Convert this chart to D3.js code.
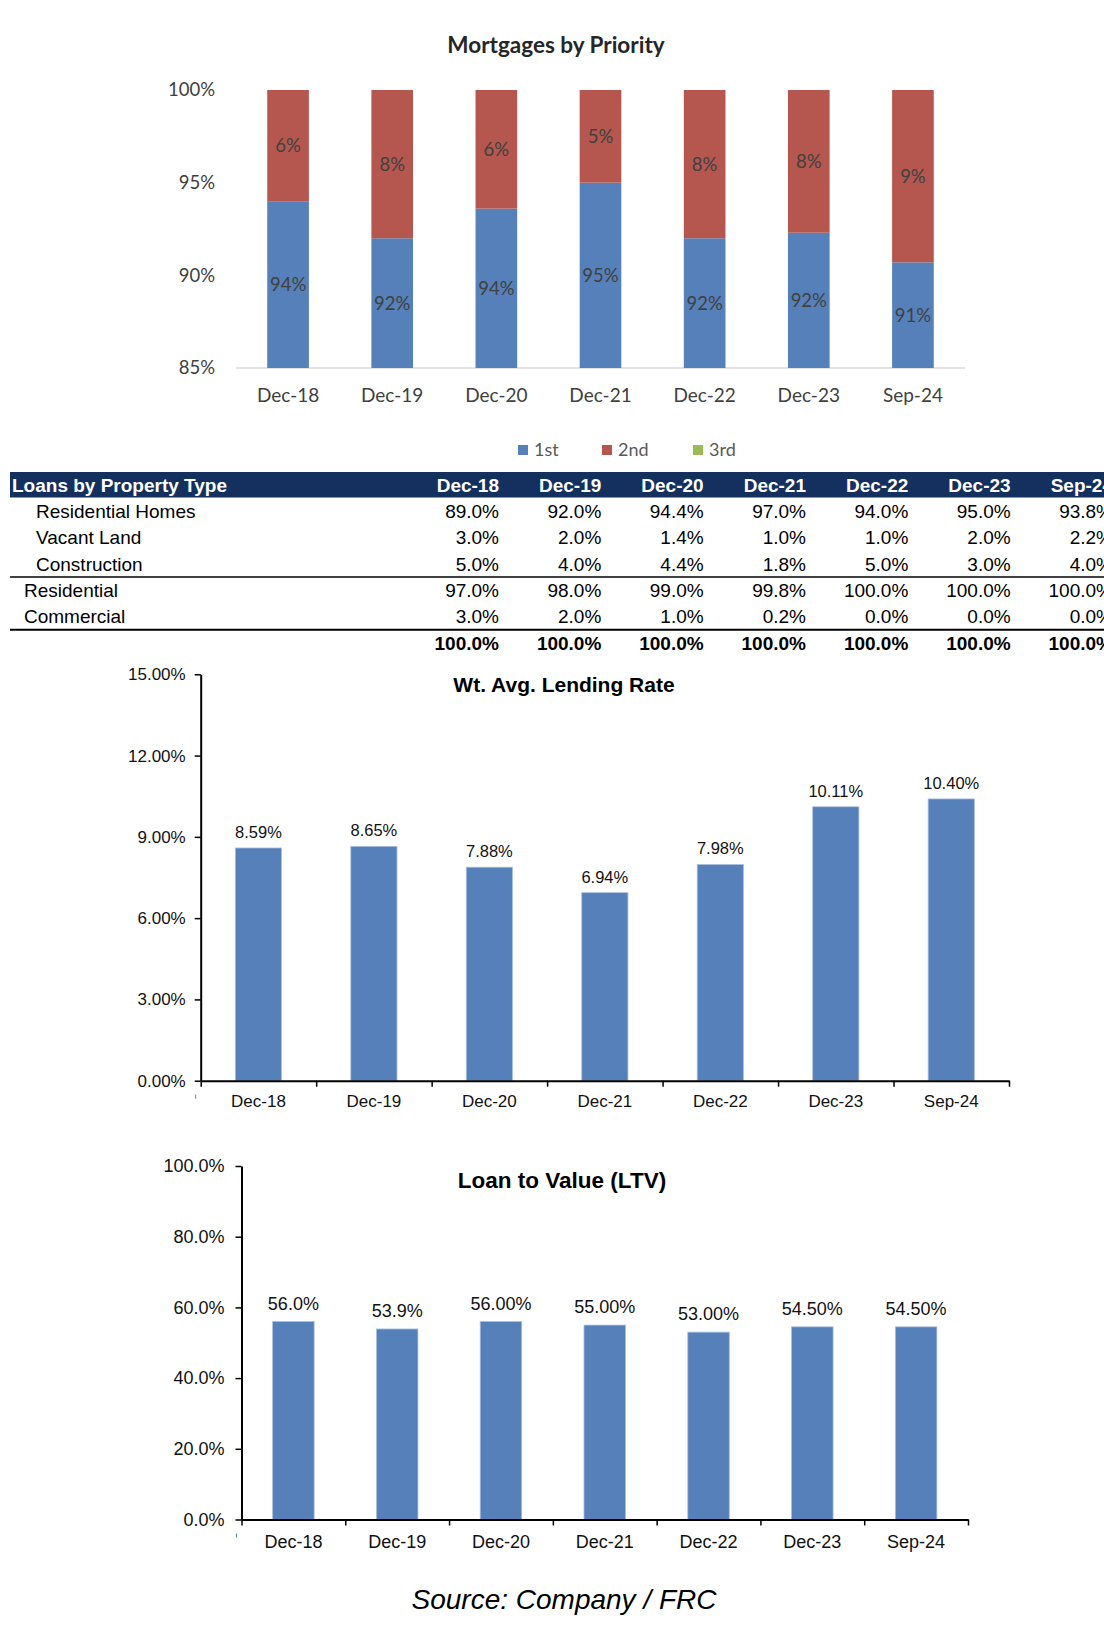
<!DOCTYPE html>
<html>
<head>
<meta charset="utf-8">
<script src="https://cdn.jsdelivr.net/npm/d3@7"></script>
<style>
  body { margin: 0; background: #fff; }
  svg text { font-family: "Liberation Sans", Arial, sans-serif; }
  .calibri { font-family: Lato, "Open Sans", sans-serif !important; }
</style>
</head>
<body>
<div id="page"></div>
<script>
// ---- data ----
const periods = ["Dec-18", "Dec-19", "Dec-20", "Dec-21", "Dec-22", "Dec-23", "Sep-24"];

// mortgages by priority (% of portfolio)
const firstLien  = [94.0, 92.0, 93.6, 95.0, 92.0, 92.3, 90.7];
const secondLien = [6.0, 8.0, 6.4, 5.0, 8.0, 7.7, 9.3];
const thirdLien  = [0, 0, 0, 0, 0, 0, 0];
const priorityTicks = [85, 90, 95, 100];
const priorityNames = ["1st", "2nd", "3rd"];

// loans by property type table
const rowNames = ["Residential Homes", "Vacant Land", "Construction", "Residential", "Commercial", ""];
const residentialHomes = [89.0, 92.0, 94.4, 97.0, 94.0, 95.0, 93.8];
const vacantLand       = [3.0, 2.0, 1.4, 1.0, 1.0, 2.0, 2.2];
const construction     = [5.0, 4.0, 4.4, 1.8, 5.0, 3.0, 4.0];
const residential      = [97.0, 98.0, 99.0, 99.8, 100.0, 100.0, 100.0];
const commercial       = [3.0, 2.0, 1.0, 0.2, 0.0, 0.0, 0.0];
const totals           = [100.0, 100.0, 100.0, 100.0, 100.0, 100.0, 100.0];

// weighted avg lending rate (%)
const lendingRate = [8.59, 8.65, 7.88, 6.94, 7.98, 10.11, 10.40];
const rateTicks = [0, 3, 6, 9, 12, 15];

// loan to value (%)
const ltv = [56.0, 53.9, 56.0, 55.0, 53.0, 54.5, 54.5];
const ltvLabels = ["56.0%", "53.9%", "56.00%", "55.00%", "53.00%", "54.50%", "54.50%"];
const ltvTicks = [0, 20, 40, 60, 80, 100];

const blue = "#5680B9", red = "#B5574F", green = "#9BBB59";

const svg = d3.select("#page").append("svg")
  .attr("width", 1104).attr("height", 1638)
  .style("background", "#fff");

// ================= Mortgages by Priority =================
function drawPriority() {
  const g = svg.append("g");
  const x = d3.scaleBand().domain(periods).range([236, 965]).paddingInner(0.6).paddingOuter(0.3);
  const y = d3.scaleLinear().domain([85, 100]).range([368, 90]).clamp(true);

  const rows = periods.map((p, i) => ({ period: p, "1st": firstLien[i], "2nd": secondLien[i], "3rd": thirdLien[i] }));
  const series = d3.stack().keys(priorityNames)(rows);
  const color = d3.scaleOrdinal().domain(priorityNames).range([blue, red, green]);

  g.append("text").attr("class", "calibri")
    .attr("x", 556).attr("y", 45).attr("dy", "0.35em")
    .attr("text-anchor", "middle")
    .style("font-size", "22.5px").style("font-weight", "bold").style("fill", "#262626")
    .text("Mortgages by Priority");

  // y labels, no axis line
  g.selectAll(".ytick").data(priorityTicks).join("text")
    .attr("class", "calibri")
    .attr("x", 215).attr("y", d => y(d)).attr("dy", "0.35em")
    .attr("text-anchor", "end")
    .style("font-size", "18.5px").style("fill", "#404040")
    .text(d => d + "%");

  g.append("line")
    .attr("x1", 236).attr("x2", 965).attr("y1", y(85)).attr("y2", y(85))
    .attr("stroke", "#d9d9d9").attr("stroke-width", 1.5);

  const layer = g.selectAll(".layer").data(series).join("g")
    .attr("fill", d => color(d.key));

  layer.selectAll("rect").data(d => d).join("rect")
    .attr("x", d => x(d.data.period))
    .attr("y", d => y(d[1]))
    .attr("width", x.bandwidth())
    .attr("height", d => y(d[0]) - y(d[1]));

  layer.selectAll("text").data(d => d.map(v => ({ v, key: d.key }))).join("text")
    .filter(d => d.v.data[d.key] > 0)
    .attr("class", "calibri")
    .attr("x", d => x(d.v.data.period) + x.bandwidth() / 2)
    .attr("y", d => (y(d.v[0]) + y(d.v[1])) / 2)
    .attr("dy", "0.35em")
    .attr("text-anchor", "middle")
    .style("font-size", "18.5px").style("fill", "#404040")
    .text(d => Math.round(d.v.data[d.key]) + "%");

  g.selectAll(".xlab").data(periods).join("text")
    .attr("class", "calibri")
    .attr("x", d => x(d) + x.bandwidth() / 2).attr("y", 395).attr("dy", "0.35em")
    .attr("text-anchor", "middle")
    .style("font-size", "19px").style("fill", "#404040")
    .text(d => d);

  // legend
  const legendX = [518, 602, 693];
  const lg = g.selectAll(".leg").data(priorityNames).join("g")
    .attr("transform", (d, i) => `translate(${legendX[i]},450)`);
  lg.append("rect").attr("x", 0).attr("y", -5).attr("width", 10).attr("height", 10)
    .attr("fill", d => color(d));
  lg.append("text").attr("class", "calibri")
    .attr("x", 16).attr("dy", "0.35em")
    .style("font-size", "18px").style("fill", "#595959")
    .text(d => d);
}

// ================= Loans by Property Type table =================
function drawTable() {
  const g = svg.append("g");
  const col = d3.scalePoint().domain(periods).range([499, 1113]);
  const rowY = d3.scaleLinear().domain([0, 1]).range([485, 511.3]);
  const values = [residentialHomes, vacantLand, construction, residential, commercial, totals];
  const indent = [36, 36, 36, 24, 24, 24];

  g.append("rect").attr("x", 10).attr("y", 472).attr("width", 1094).attr("height", 25.5)
    .attr("fill", "#14305E");
  g.append("text").attr("x", 12).attr("y", rowY(0)).attr("dy", "0.36em")
    .style("font-size", "19px").style("font-weight", "bold").style("fill", "#fff")
    .text("Loans by Property Type");
  g.selectAll(".hdr").data(periods).join("text")
    .attr("x", d => col(d)).attr("y", rowY(0)).attr("dy", "0.36em")
    .attr("text-anchor", "end")
    .style("font-size", "19px").style("font-weight", "bold").style("fill", "#fff")
    .text(d => d);

  const row = g.selectAll(".row").data(rowNames).join("g")
    .attr("transform", (d, i) => `translate(0,${rowY(i + 1)})`);
  row.append("text")
    .attr("x", (d, i) => indent[i]).attr("dy", "0.36em")
    .style("font-size", "19px").style("fill", "#000")
    .text(d => d);
  row.selectAll(".val").data((d, i) => values[i].map((v, j) => ({ v, p: periods[j], bold: i === 5 })))
    .join("text")
    .attr("x", d => col(d.p)).attr("dy", "0.36em")
    .attr("text-anchor", "end")
    .style("font-size", "19px").style("fill", "#000")
    .style("font-weight", d => d.bold ? "bold" : "normal")
    .text(d => d.v.toFixed(1) + "%");

  g.append("line").attr("x1", 10).attr("x2", 1104)
    .attr("y1", (rowY(3) + rowY(4)) / 2).attr("y2", (rowY(3) + rowY(4)) / 2)
    .attr("stroke", "#000").attr("stroke-width", 1.5);
  g.append("line").attr("x1", 10).attr("x2", 1104)
    .attr("y1", (rowY(5) + rowY(6)) / 2).attr("y2", (rowY(5) + rowY(6)) / 2)
    .attr("stroke", "#000").attr("stroke-width", 2);
}

// ================= simple bar chart with axes =================
function drawBars(opt) {
  const g = svg.append("g");
  const x = d3.scaleBand().domain(periods).range([opt.x0, opt.x1]).paddingInner(0.6).paddingOuter(0.3);
  const y = d3.scaleLinear().domain([0, opt.max]).range([opt.y0, opt.y1]);

  g.append("text")
    .attr("x", opt.titleX).attr("y", opt.titleY).attr("dy", "0.35em")
    .attr("text-anchor", "middle")
    .style("font-size", opt.titleSize).style("font-weight", "bold").style("fill", "#000")
    .text(opt.title);

  g.selectAll(".bar").data(opt.values).join("rect")
    .attr("x", (d, i) => x(periods[i]))
    .attr("y", d => y(d))
    .attr("width", x.bandwidth())
    .attr("height", d => y(0) - y(d))
    .attr("fill", blue)
    .attr("stroke", "#a9bfdd").attr("stroke-width", 0.8);

  g.selectAll(".lab").data(opt.values).join("text")
    .attr("x", (d, i) => x(periods[i]) + x.bandwidth() / 2)
    .attr("y", d => y(d) - opt.labGap)
    .attr("text-anchor", "middle")
    .style("font-size", opt.labSize).style("fill", "#111")
    .text((d, i) => opt.labels[i]);

  // y axis
  const ya = g.append("g").attr("transform", `translate(${opt.x0},0)`)
    .call(d3.axisLeft(y).tickValues(opt.ticks).tickFormat(opt.fmt).tickSize(6).tickSizeOuter(0).tickPadding(opt.yPad));
  // x axis ticks at band edges
  const edge = d3.scaleLinear().domain([0, periods.length]).range([opt.x0, opt.x1]);
  const xa = g.append("g").attr("transform", `translate(0,${opt.y0})`)
    .call(d3.axisBottom(edge).tickValues(d3.range(periods.length + 1)).tickFormat("").tickSize(6).tickSizeOuter(0));
  const xl = g.append("g").attr("transform", `translate(0,${opt.y0})`)
    .call(d3.axisBottom(x).tickSize(0).tickPadding(opt.xPad));
  xl.select(".domain").remove();

  [ya, xa].forEach(a => {
    a.select(".domain").attr("stroke", "#000").attr("stroke-width", 2);
    a.selectAll(".tick line").attr("stroke", "#000").attr("stroke-width", 1.5);
  });
  g.selectAll(".tick text")
    .style("font-family", '"Liberation Sans", Arial, sans-serif')
    .style("font-size", opt.tickSize).style("fill", "#111");

  // small stray legend marker seen under the axis corner
  g.append("line")
    .attr("x1", opt.x0 - 5).attr("x2", opt.x0 - 5)
    .attr("y1", opt.y0 + 14).attr("y2", opt.y0 + 18)
    .attr("stroke", blue).attr("stroke-width", 1);
}

drawPriority();
drawTable();

drawBars({
  title: "Wt. Avg. Lending Rate", titleX: 564, titleY: 685, titleSize: "21px",
  x0: 200.7, x1: 1009, y0: 1080.7, y1: 674.3, max: 15,
  values: lendingRate, labels: lendingRate.map(d => d.toFixed(2) + "%"),
  ticks: rateTicks, fmt: d => d.toFixed(2) + "%",
  labSize: "16.5px", labGap: 10, tickSize: "17px", yPad: 9, xPad: 14
});

drawBars({
  title: "Loan to Value (LTV)", titleX: 562, titleY: 1180, titleSize: "22.5px",
  x0: 241.5, x1: 968, y0: 1519.5, y1: 1166, max: 100,
  values: ltv, labels: ltvLabels,
  ticks: ltvTicks, fmt: d => d.toFixed(1) + "%",
  labSize: "18px", labGap: 12, tickSize: "18px", yPad: 11, xPad: 16
});

svg.append("text")
  .attr("x", 564).attr("y", 1599).attr("dy", "0.35em")
  .attr("text-anchor", "middle")
  .style("font-size", "28px").style("font-style", "italic").style("fill", "#000")
  .text("Source: Company / FRC");
</script>
</body>
</html>
